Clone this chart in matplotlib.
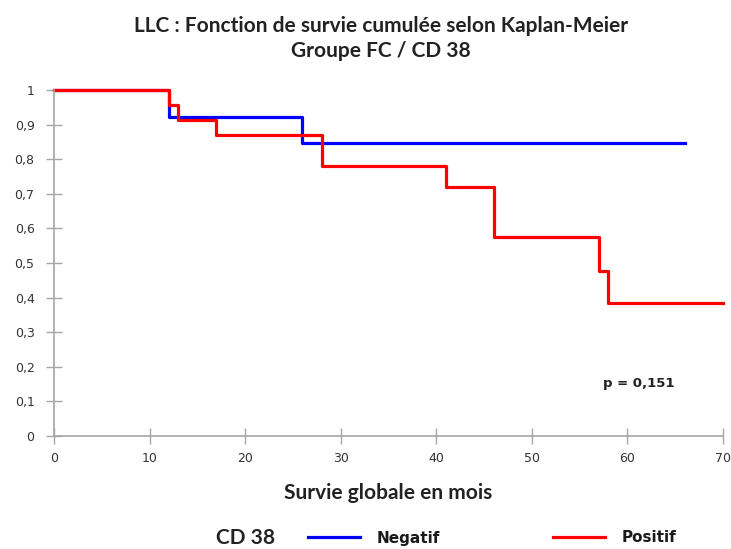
import matplotlib

matplotlib.use("Agg")
import matplotlib.pyplot as plt
import numpy as np

# Kaplan-Meier steps
neg_months = [0, 12, 26, 66]
neg_surv = [1.0, 0.923, 0.846, 0.846]

pos_months = [0, 12, 13, 17, 28, 41, 46, 57, 58, 70]
pos_surv = [1.0, 0.957, 0.913, 0.870, 0.780, 0.720, 0.574, 0.478, 0.383, 0.383]

x_ticks = list(range(0, 71, 10))
y_ticks = [round(v * 0.1, 1) for v in range(0, 11)]
y_labels = ["0", "0,1", "0,2", "0,3", "0,4", "0,5", "0,6", "0,7", "0,8", "0,9", "1"]

fig = plt.figure(figsize=(7.31, 5.49), dpi=100)
ax = fig.add_axes([54 / 731, 1 - 436 / 549, (723 - 54) / 731, (436 - 90) / 549])

(neg_line,) = ax.step(neg_months, neg_surv, where="post", color="#0000ff",
                      linewidth=2.3, clip_on=False, label="Negatif")
(pos_line,) = ax.step(pos_months, pos_surv, where="post", color="#ff0000",
                      linewidth=2.3, clip_on=False, label="Positif")

ax.set_xlim(0, 70)
ax.set_ylim(0, 1)
ax.set_xticks(x_ticks)
ax.set_yticks(y_ticks)
ax.set_yticklabels(y_labels)

for side in ["top", "right"]:
    ax.spines[side].set_visible(False)
for side in ["left", "bottom"]:
    ax.spines[side].set_color("#a6a6a6")
    ax.spines[side].set_linewidth(1.2)

ax.tick_params(axis="y", direction="inout", length=12, width=1, color="#a6a6a6",
               labelsize=9, labelcolor="#333333", pad=8)
ax.tick_params(axis="x", direction="inout", length=11, width=1, color="#a6a6a6",
               labelsize=9, labelcolor="#333333", pad=6)

ax.text((639 - 54) / 669, (436 - 384) / 346, "p = 0,151", transform=ax.transAxes,
        ha="center", va="center", fontsize=9.5, fontweight="bold",
        family="DejaVu Sans", color="#222222")

title_font = {"family": "Lato", "fontweight": "bold", "fontsize": 15,
              "color": "#222222"}
fig.text(381 / 731, 1 - 26 / 549, "LLC : Fonction de survie cumulée selon Kaplan-Meier",
         ha="center", va="center", **title_font)
fig.text(381 / 731, 1 - 51 / 549, "Groupe FC / CD 38",
         ha="center", va="center", **title_font)

ax.set_xlabel("Survie globale en mois", labelpad=13, **title_font)

fig.text(246 / 731, 1 - 538 / 549, "CD 38", ha="center", va="center", **title_font)
fig.legend(handles=[neg_line, pos_line], loc="center left",
           bbox_to_anchor=(308 / 731, 1 - 538 / 549), ncol=2, frameon=False,
           prop={"family": "DejaVu Sans", "weight": "bold", "size": 11},
           labelcolor="#1a1a1a",
           handlelength=3.4, handletextpad=1.1, columnspacing=7.4,
           borderpad=0, borderaxespad=0)

fig.savefig("out.png", dpi=100)
